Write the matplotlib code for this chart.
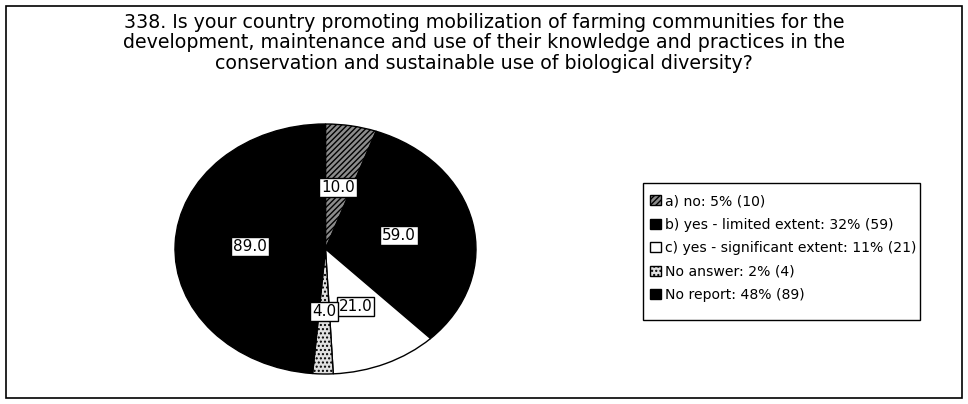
import matplotlib.pyplot as plt
from matplotlib.patches import Rectangle, Patch

# data
labels = ['a) no: 5% (10)',
          'b) yes - limited extent: 32% (59)',
          'c) yes - significant extent: 11% (21)',
          'No answer: 2% (4)',
          'No report: 48% (89)']
values = [10, 59, 21, 4, 89]
colors = ['#8c8c8c', 'black', 'white', '#e0e0e0', 'black']
hatches = ['//////', None, None, '....', None]

title = ('338. Is your country promoting mobilization of farming communities for the\n'
         'development, maintenance and use of their knowledge and practices in the\n'
         'conservation and sustainable use of biological diversity?')

plt.rcParams['font.family'] = ['DejaVu Sans']

fig = plt.figure(figsize=(9.68, 4.04), dpi=100)
W, H = 968, 404

# outer frame
fig.patches.append(Rectangle((6 / W, 1 - 398 / H), 956 / W, 392 / H,
                             transform=fig.transFigure, fill=False,
                             edgecolor='black', linewidth=1.2))

fig.text(0.5, 1 - 43 / H, title, ha='center', va='center',
         fontsize=13.65, linespacing=1.12)

# pie axes (elliptical pie)
ax = fig.add_axes([175 / W, 1 - 374 / H, 301 / W, 250 / H])
total = sum(values)
wedges, texts, autotexts = ax.pie(
    values, colors=colors, startangle=90, counterclock=False,
    autopct=lambda p: '%.1f' % (p * total / 100), pctdistance=0.5,
    wedgeprops=dict(edgecolor='black', linewidth=1))
for w, h in zip(wedges, hatches):
    if h:
        w.set_hatch(h)
for t in autotexts:
    t.set_fontsize(11)
    t.set_bbox(dict(facecolor='white', edgecolor='black', pad=1.4, linewidth=1))
ax.set_aspect('auto')
ax.set_xlim(-1, 1)
ax.set_ylim(-1, 1)

# legend frame drawn by hand (bottom padding is larger than the top one)
fig.patches.append(Rectangle((643 / W, 1 - 320 / H), 277 / W, 137 / H,
                             transform=fig.transFigure, fill=False,
                             edgecolor='black', linewidth=1))
handles = [Patch(facecolor=c, edgecolor='black', hatch=h) for c, h in zip(colors, hatches)]
leg = fig.legend(handles, labels, loc='upper left',
                 bbox_to_anchor=(643 / W, 1 - 187 / H), fontsize=10.1,
                 frameon=False,
                 handlelength=0.75, handleheight=0.75, handletextpad=0.35,
                 labelspacing=0.68, borderpad=0.0, borderaxespad=0.5)

fig.savefig('out.png', dpi=100, facecolor='white')
